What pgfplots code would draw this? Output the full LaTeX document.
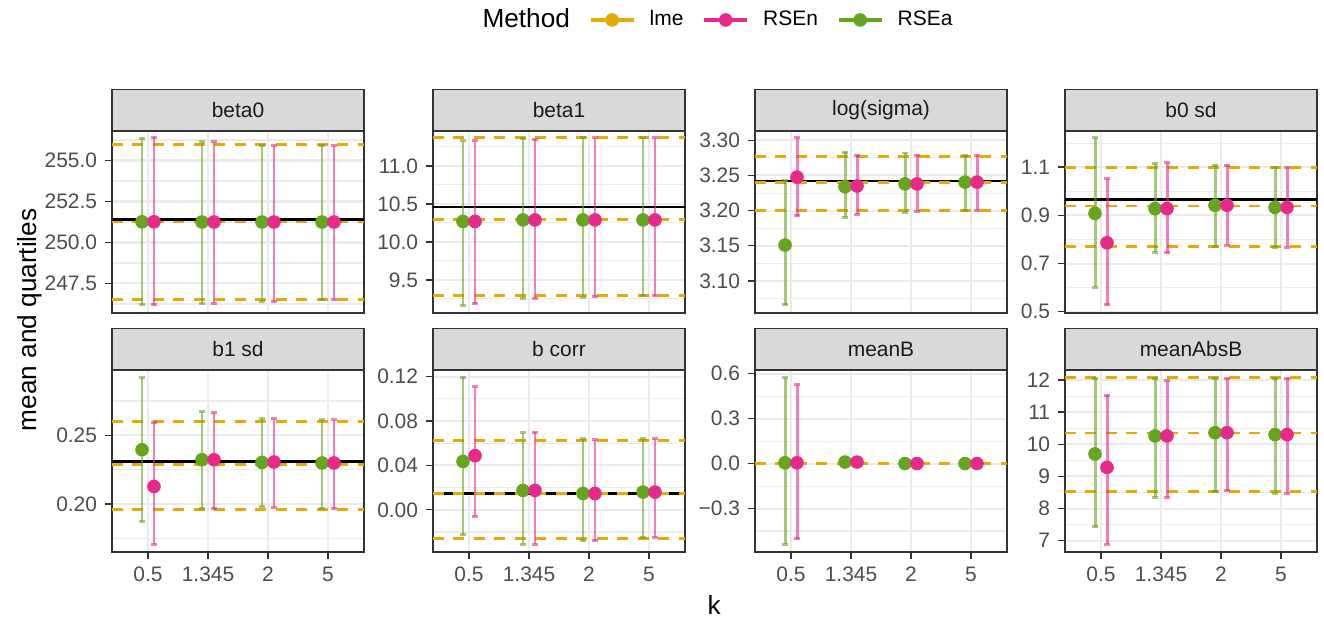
\documentclass[border=0pt]{standalone}
\usepackage{fontspec}
\setmainfont{Liberation Sans}
\usepackage{pgfplots}
\usepackage{pgfplotstable}
\pgfplotsset{compat=1.18}

\definecolor{lmeC}{HTML}{E6AB02}
\definecolor{rsenC}{HTML}{E7298A}
\definecolor{rseaC}{HTML}{66A61E}
\definecolor{gridC}{HTML}{EBEBEB}
\definecolor{stripC}{HTML}{D9D9D9}
\definecolor{frameC}{HTML}{333333}
\definecolor{tickC}{HTML}{4D4D4D}
\definecolor{stripT}{HTML}{1A1A1A}

% columns: k position, RSEa mean/lower/upper, RSEn mean/lower/upper
\pgfplotstableread{
x aM aL aH nM nL nH
1 251.26 246.20 256.35 251.26 246.20 256.43
2 251.25 246.25 256.15 251.25 246.30 256.15
3 251.25 246.40 255.90 251.25 246.40 255.90
4 251.25 246.50 255.90 251.25 246.50 255.90
}\tabBetaZero
\pgfplotstableread{
x aM aL aH nM nL nH
1 10.27 9.17 11.33 10.27 9.19 11.33
2 10.29 9.26 11.36 10.29 9.26 11.35
3 10.29 9.27 11.37 10.29 9.28 11.37
4 10.29 9.29 11.37 10.29 9.29 11.37
}\tabBetaOne
\pgfplotstableread{
x aM aL aH nM nL nH
1 3.1510 3.0657 3.2433 3.2476 3.1930 3.3040
2 3.2340 3.1905 3.2830 3.2350 3.1950 3.2790
3 3.2380 3.1976 3.2820 3.2380 3.1990 3.2790
4 3.2405 3.2005 3.2790 3.2405 3.2005 3.2790
}\tabSigma
\pgfplotstableread{
x aM aL aH nM nL nH
1 0.908 0.601 1.2225 0.786 0.528 1.0517
2 0.928 0.746 1.115 0.928 0.745 1.118
3 0.9417 0.771 1.108 0.9417 0.775 1.108
4 0.933 0.768 1.100 0.933 0.768 1.100
}\tabBzero
\pgfplotstableread{
x aM aL aH nM nL nH
1 0.2395 0.1868 0.2920 0.2127 0.1706 0.2591
2 0.2322 0.1963 0.2671 0.2322 0.1963 0.2666
3 0.2302 0.1980 0.2620 0.2305 0.1976 0.2620
4 0.2298 0.1963 0.2615 0.2298 0.1963 0.2615
}\tabBone
\pgfplotstableread{
x aM aL aH nM nL nH
1 0.0436 -0.0226 0.1195 0.0488 -0.0057 0.1110
2 0.0175 -0.0310 0.0693 0.0175 -0.0310 0.0699
3 0.0147 -0.0280 0.0639 0.0147 -0.0280 0.0633
4 0.0160 -0.0247 0.0639 0.0160 -0.0247 0.0639
}\tabCorr
\pgfplotstableread{
x aM aL aH nM nL nH
1 0.005 -0.537 0.573 0.005 -0.502 0.526
2 0.010 -0.005 0.020 0.010 -0.005 0.020
3 0.000 -0.010 0.010 0.000 -0.010 0.010
4 0.000 -0.010 0.010 0.000 -0.010 0.010
}\tabMeanB
\pgfplotstableread{
x aM aL aH nM nL nH
1 9.70 7.43 12.06 9.28 6.89 11.53
2 10.26 8.36 12.05 10.26 8.35 11.98
3 10.36 8.53 12.05 10.36 8.56 12.05
4 10.30 8.48 12.05 10.30 8.48 12.05
}\tabAbsB

\pgfplotsset{
  panel/.style={
    scale only axis, width=105.84pt, height=76.44pt, anchor=north west,
    xmin=0.4, xmax=4.6, xtick={1,2,3,4},
    axis line style={frameC, line width=0.55pt},
    tick style={frameC, line width=0.55pt},
    tick align=outside, major tick length=2.75pt, minor tick length=0pt,
    xtick pos=bottom, ytick pos=left,
    xmajorgrids, ymajorgrids, yminorgrids,
    major grid style={gridC, line width=0.85pt},
    minor grid style={gridC, line width=0.45pt},
    ticklabel style={font=\fontsize{8.8}{10}\selectfont, text=tickC},
  },
  toprow/.style={panel, xticklabels={}, xtick style={draw=none}},
  botrow/.style={panel, xticklabels={0.5,1.345,2,5}},
  lmeline/.style={lmeC, line width=1.2pt, dash pattern=on 4.6pt off 4pt},
  trueline/.style={black, line width=1.1pt},
  ebar/.style={only marks, mark=none, forget plot,
    error bars/.cd, y dir=both, y explicit,
    error bar style={#1, line width=1.25pt, opacity=0.6},
    error mark options={#1, rotate=90, line width=1.25pt, opacity=0.6, mark size=1.3pt}},
  pts/.style={only marks, mark=*, mark size=2.65pt, color=#1, forget plot},
}

\newcommand{\hl}[2]{\addplot[#1, forget plot] coordinates {(0.4,#2) (4.6,#2)};}
\newcommand{\series}[1]{%
  \addplot[ebar=rseaC] table[x expr=\thisrow{x}-0.1, y=aM,
    y error plus expr=\thisrow{aH}-\thisrow{aM},
    y error minus expr=\thisrow{aM}-\thisrow{aL}] {#1};
  \addplot[ebar=rsenC] table[x expr=\thisrow{x}+0.1, y=nM,
    y error plus expr=\thisrow{nH}-\thisrow{nM},
    y error minus expr=\thisrow{nM}-\thisrow{nL}] {#1};
  \addplot[pts=rseaC] table[x expr=\thisrow{x}-0.1, y=aM] {#1};
  \addplot[pts=rsenC] table[x expr=\thisrow{x}+0.1, y=nM] {#1};
}
\newcommand{\strip}[3]{%
  \draw[fill=stripC, draw=frameC, line width=0.55pt] (#1,#2) rectangle ++(105.84pt,17.4pt);
  \node[text=stripT, font=\fontsize{8.8}{10}\selectfont] at ([xshift=52.92pt, yshift=8.7pt]#1,#2) {#3};
}

\begin{document}
\begin{tikzpicture}
\path[use as bounding box] (0pt,0pt) rectangle (556.08pt,259.56pt);

% ---- top row ----
\begin{axis}[toprow, at={(47.04pt,204.54pt)}, ymin=245.7, ymax=256.8,
  ytick={247.5,250,252.5,255}, yticklabels={247.5,250.0,252.5,255.0},
  minor ytick={246.25,248.75,251.25,253.75,256.25}]
  \hl{trueline}{251.39}
  \hl{lmeline}{246.5} \hl{lmeline}{251.25} \hl{lmeline}{256.0}
  \series{\tabBetaZero}
\end{axis}

\begin{axis}[toprow, at={(181.86pt,204.54pt)}, ymin=9.065, ymax=11.46,
  ytick={9.5,10,10.5,11}, yticklabels={9.5,10.0,10.5,11.0},
  minor ytick={9.25,9.75,10.25,10.75,11.25},
  legend columns=4,
  legend style={at={(1.11,1.61)}, anchor=center, draw=none, fill=none,
    font=\fontsize{8.8}{10}\selectfont,
    /tikz/every odd column/.append style={column sep=4pt},
    /tikz/every even column/.append style={column sep=6pt}},
  legend image code/.code={%
    \draw[#1, line width=1.5pt] (0pt,0pt) -- (18pt,0pt);
    \fill[#1] (9pt,0pt) circle (2.65pt);}]
  \hl{trueline}{10.46}
  \hl{lmeline}{9.29} \hl{lmeline}{10.29} \hl{lmeline}{11.37}
  \series{\tabBetaOne}
  \addlegendimage{empty legend}
  \addlegendentry{\fontsize{11}{13}\selectfont Method}
  \addlegendimage{lmeC}
  \addlegendentry{lme}
  \addlegendimage{rsenC}
  \addlegendentry{RSEn}
  \addlegendimage{rseaC}
  \addlegendentry{RSEa}
\end{axis}

\begin{axis}[toprow, at={(317.10pt,204.54pt)}, ymin=3.0543, ymax=3.3133,
  ytick={3.10,3.15,3.20,3.25,3.30}, yticklabels={3.10,3.15,3.20,3.25,3.30},
  minor ytick={3.075,3.125,3.175,3.225,3.275}]
  \hl{trueline}{3.2419}
  \hl{lmeline}{3.20} \hl{lmeline}{3.2395} \hl{lmeline}{3.2776}
  \series{\tabSigma}
\end{axis}

\begin{axis}[toprow, at={(447.30pt,204.54pt)}, ymin=0.4946, ymax=1.25,
  ytick={0.5,0.7,0.9,1.1}, yticklabels={0.5,0.7,0.9,1.1},
  minor ytick={0.6,0.8,1.0,1.2}]
  \hl{trueline}{0.9654}
  \hl{lmeline}{0.7696} \hl{lmeline}{0.939} \hl{lmeline}{1.10}
  \series{\tabBzero}
\end{axis}

% ---- bottom row ----
\begin{axis}[botrow, at={(47.04pt,104.16pt)}, ymin=0.1649, ymax=0.2976,
  ytick={0.20,0.25}, yticklabels={0.20,0.25},
  minor ytick={0.175,0.225,0.275}]
  \hl{trueline}{0.2310}
  \hl{lmeline}{0.1958} \hl{lmeline}{0.2288} \hl{lmeline}{0.2602}
  \series{\tabBone}
\end{axis}

\begin{axis}[botrow, at={(181.86pt,104.16pt)}, ymin=-0.038, ymax=0.126,
  ytick={0,0.04,0.08,0.12}, yticklabels={0.00,0.04,0.08,0.12},
  minor ytick={-0.02,0.02,0.06,0.10}]
  \hl{trueline}{0.0145}
  \hl{lmeline}{-0.026} \hl{lmeline}{0.0151} \hl{lmeline}{0.0623}
  \series{\tabCorr}
\end{axis}

\begin{axis}[botrow, at={(317.10pt,104.16pt)}, ymin=-0.59, ymax=0.624,
  ytick={-0.3,0,0.3,0.6}, yticklabels={−0.3,0.0,0.3,0.6},
  minor ytick={-0.45,-0.15,0.15,0.45}]
  \hl{lmeline}{-0.002} \hl{lmeline}{0.0} \hl{lmeline}{0.002}
  \series{\tabMeanB}
\end{axis}

\begin{axis}[botrow, at={(447.30pt,104.16pt)}, ymin=6.65, ymax=12.31,
  ytick={7,8,9,10,11,12}, yticklabels={7,8,9,10,11,12},
  minor ytick={7.5,8.5,9.5,10.5,11.5}]
  \hl{lmeline}{8.53} \hl{lmeline}{10.35} \hl{lmeline}{12.07}
  \series{\tabAbsB}
\end{axis}

% ---- strips ----
\strip{47.04pt}{204.54pt}{beta0}
\strip{181.86pt}{204.54pt}{beta1}
\strip{317.10pt}{204.54pt}{log(sigma)}
\strip{447.30pt}{204.54pt}{b0 sd}
\strip{47.04pt}{104.16pt}{b1 sd}
\strip{181.86pt}{104.16pt}{b corr}
\strip{317.10pt}{104.16pt}{meanB}
\strip{447.30pt}{104.16pt}{meanAbsB}

% ---- axis titles ----
\node[rotate=90, font=\fontsize{11}{13}\selectfont] at (12.3pt,125.2pt) {mean and quartiles};
\node[font=\fontsize{11}{13}\selectfont] at (299.9pt,5.6pt) {k};
\end{tikzpicture}
\end{document}
